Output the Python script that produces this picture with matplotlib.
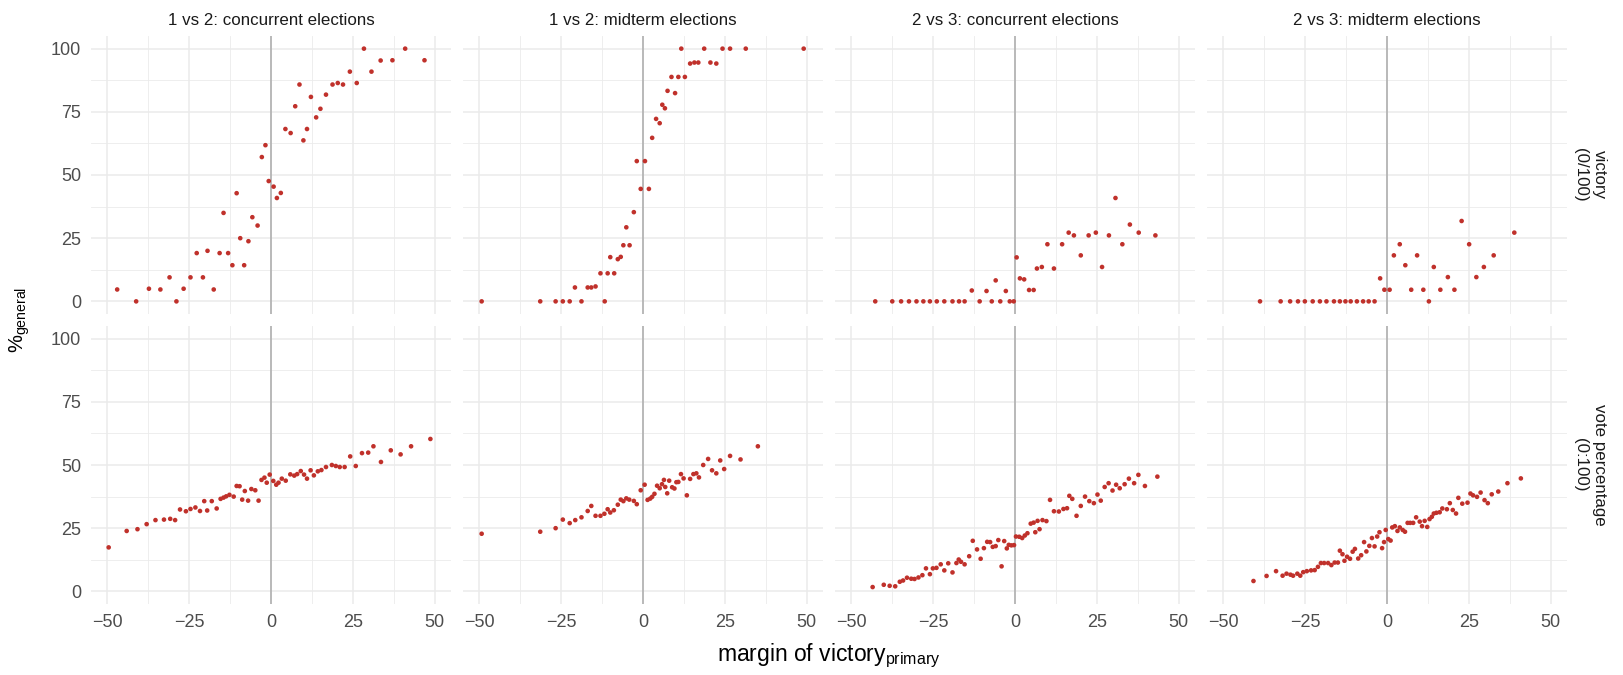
import matplotlib
matplotlib.use("Agg")
import matplotlib.pyplot as plt
from matplotlib.ticker import MultipleLocator

plt.rcParams['font.family'] = ['Liberation Sans', 'DejaVu Sans']
plt.rcParams['mathtext.default'] = 'regular'

# column / row facet labels
col_labels = ["1 vs 2: concurrent elections", "1 vs 2: midterm elections",
              "2 vs 3: concurrent elections", "2 vs 3: midterm elections"]
row_labels = ["victory\n(0/100)", "vote percentage\n(0:100)"]
x_ticks = [-50, -25, 0, 25, 50]
y_ticks = [0, 25, 50, 75, 100]

# victory (0/100), by column
c12_win_x = [-47.0, -41.2, -37.3, -33.8, -31.0, -28.9, -26.7, -24.6, -22.7, -20.8,
             -19.4, -17.5, -15.7, -14.5, -13.1, -11.8, -10.5, -9.4, -8.2, -6.9,
             -5.7, -4.1, -2.8, -1.7, -0.7, 0.8, 1.8, 3.0, 4.4, 6.0,
             7.4, 8.7, 9.9, 11.0, 12.2, 13.8, 15.1, 16.8, 18.8, 20.4,
             22.0, 24.1, 26.2, 28.4, 30.7, 33.5, 37.1, 41.0, 46.9]
c12_win_y = [4.7, 0, 5, 4.7, 9.5, 0, 5, 9.5, 19.1, 9.5,
             20, 4.7, 19.1, 35, 19.1, 14.3, 42.8, 25, 14.3, 23.8,
             33.3, 30, 57.1, 61.8, 47.6, 45.4, 40.9, 42.9, 68.2, 66.6,
             77.2, 85.8, 63.7, 68.2, 80.9, 72.8, 76.2, 81.8, 85.8, 86.4,
             85.8, 90.9, 86.4, 100, 90.9, 95.3, 95.4, 100, 95.4]

m12_win_x = [-49.3, -31.4, -26.7, -24.5, -22.4, -20.8, -18.8, -16.9, -15.8, -14.5,
             -13.0, -11.7, -10.8, -10.0, -8.8, -7.7, -6.8, -6.0, -4.1, -5.1,
             -2.8, -1.9, -0.7, 0.6, 1.8, 2.8, 4.0, 5.1, 5.9, 6.7,
             7.5, 8.7, 9.8, 10.8, 11.7, 12.8, 14.4, 15.7, 16.9, 18.7,
             20.6, 22.4, 24.3, 26.6, 31.4, 49.1]
m12_win_y = [0, 0, 0, 0, 0, 5.5, 0, 5.5, 5.5, 5.9,
             11.1, 0, 11.1, 17.5, 11.1, 16.7, 17.6, 22.2, 22.2, 29.3,
             35.3, 55.5, 44.5, 55.5, 44.5, 64.7, 72.2, 70.5, 77.8, 76.4,
             83.3, 88.8, 82.4, 88.8, 100, 88.8, 94.1, 94.5, 94.5, 100,
             94.5, 94.1, 100, 100, 100, 100]

c23_win_x = [-42.7, -37.5, -34.8, -32.4, -30.1, -28.0, -26.0, -23.9, -21.6, -19.1,
             -17.1, -15.4, -13.2, -10.8, -8.7, -7.1, -5.9, -4.5, -2.8, -1.6,
             -0.4, 0.5, 1.5, 2.8, 4.3, 5.7, 6.7, 8.2, 9.9, 11.9,
             14.4, 16.4, 18.0, 20.1, 22.5, 24.7, 26.6, 28.7, 30.7, 32.8,
             35.1, 37.8, 42.9]
c23_win_y = [0, 0, 0, 0, 0, 0, 0, 0, 0, 0,
             0, 0, 4.3, 0, 4.1, 0, 8.3, 0, 4.1, 0,
             0, 17.4, 9.1, 8.7, 4.5, 4.5, 13.0, 13.6, 22.6, 13.0,
             22.6, 27.2, 26.1, 18.2, 26.1, 27.2, 13.6, 26.1, 40.9, 22.6,
             30.4, 27.2, 26.1]

m23_win_x = [-38.8, -32.5, -29.6, -27.2, -25.1, -22.7, -20.5, -18.5, -16.2, -14.4,
             -12.7, -11.1, -9.2, -7.3, -5.6, -3.8, -2.1, -0.8, 0.8, 2.1,
             3.9, 5.6, 7.4, 9.2, 11.1, 12.8, 14.3, 16.3, 18.6, 20.6,
             22.8, 25.1, 27.3, 29.6, 32.6, 38.9]
m23_win_y = [0, 0, 0, 0, 0, 0, 0, 0, 0, 0,
             0, 0, 0, 0, 0, 0, 9.1, 4.6, 4.6, 18.2,
             22.6, 14.3, 4.6, 18.2, 4.6, 0, 13.6, 4.6, 9.6, 4.6,
             31.8, 22.6, 9.6, 13.6, 18.2, 27.2]

# vote percentage (0:100), by column
c12_vote_x = [-49.6, -44.1, -40.8, -38.0, -35.3, -32.7, -30.8, -29.3, -27.8, -26.0,
              -24.6, -23.1, -21.7, -20.4, -19.5, -18.1, -16.6, -15.4, -14.5, -13.7,
              -12.7, -11.4, -10.5, -9.6, -8.8, -8.0, -7.0, -6.0, -4.8, -3.8,
              -2.9, -2.0, -1.3, -0.4, 0.7, 1.6, 2.3, 3.3, 4.5, 5.9,
              7.1, 8.0, 9.1, 10.1, 11.0, 12.1, 13.1, 14.3, 15.4, 16.8,
              18.6, 19.8, 21.0, 22.5, 24.2, 25.9, 27.8, 29.7, 31.3, 33.6,
              36.6, 39.6, 42.8, 48.7]
c12_vote_y = [17.4, 23.9, 24.6, 26.6, 28.2, 28.4, 28.7, 28.2, 32.4, 31.7,
              32.6, 33.2, 31.8, 35.7, 32.0, 35.7, 32.8, 36.6, 37.1, 37.6,
              38.2, 37.5, 41.7, 41.6, 36.3, 39.7, 35.9, 40.5, 40.0, 35.9,
              44.1, 45.0, 43.0, 46.2, 43.7, 42.2, 43.0, 44.6, 43.8, 46.3,
              45.8, 46.4, 47.6, 46.2, 44.6, 47.9, 45.9, 47.5, 48.0, 49.2,
              50.0, 49.6, 49.2, 49.2, 53.4, 49.6, 54.7, 54.9, 57.4, 51.2,
              55.8, 54.2, 57.4, 60.3]

m12_vote_x = [-49.3, -31.4, -26.7, -24.5, -22.4, -20.7, -18.8, -16.9, -15.8, -14.5,
              -13.0, -11.8, -10.8, -10.0, -8.9, -7.7, -6.8, -6.0, -5.1, -4.2,
              -2.8, -1.9, -0.7, 0.5, 1.4, 2.2, 2.8, 3.5, 4.3, 5.1,
              5.8, 6.4, 6.8, 7.4, 8.0, 8.9, 9.6, 10.2, 10.8, 11.6,
              12.4, 13.4, 14.4, 15.4, 16.3, 17.1, 18.4, 19.9, 21.1, 22.4,
              23.6, 24.8, 26.6, 29.8, 35.1]
m12_vote_y = [22.8, 23.6, 25.0, 28.4, 27.0, 28.2, 29.3, 31.8, 33.8, 29.9,
              29.9, 30.7, 32.5, 31.2, 32.1, 34.3, 36.3, 35.7, 36.8, 36.3,
              35.8, 34.5, 40.0, 42.2, 36.2, 36.7, 37.4, 38.6, 41.8, 40.8,
              42.4, 44.1, 41.3, 38.8, 43.8, 41.2, 40.7, 43.2, 43.3, 46.4,
              44.7, 38.0, 44.5, 46.4, 46.7, 45.1, 50.0, 52.4, 47.9, 46.7,
              51.8, 48.4, 53.6, 52.2, 57.4]

c23_vote_x = [-43.5, -40.1, -38.3, -36.6, -35.2, -34.2, -33.0, -31.7, -30.7, -29.5,
              -28.3, -27.2, -26.0, -25.1, -24.0, -22.7, -21.6, -20.4, -19.1, -17.9,
              -17.2, -16.5, -15.4, -14.0, -12.9, -11.6, -10.5, -9.5, -8.5, -7.6,
              -6.8, -5.9, -5.1, -4.1, -3.3, -2.5, -1.9, -1.1, -0.3, 0.3,
              1.3, 2.2, 3.0, 3.8, 4.8, 5.7, 6.2, 6.9, 7.5, 8.4,
              9.6, 10.7, 11.9, 13.4, 14.8, 15.9, 16.6, 17.5, 18.8, 20.1,
              21.4, 22.7, 24.1, 25.2, 26.2, 27.4, 28.6, 29.8, 30.9, 32.0,
              33.5, 34.8, 36.4, 37.7, 39.7, 43.5]
c23_vote_y = [1.7, 2.6, 2.2, 2.0, 3.8, 4.3, 5.4, 5.0, 4.9, 5.5,
              6.4, 9.1, 6.8, 9.1, 9.3, 10.7, 8.3, 11.1, 7.5, 11.2,
              12.6, 11.7, 10.7, 13.9, 20.0, 16.6, 12.9, 17.1, 19.6, 19.5,
              17.6, 17.9, 20.3, 9.9, 19.9, 17.0, 18.4, 18.2, 18.3, 21.7,
              21.6, 21.1, 22.1, 23.0, 26.8, 27.2, 23.4, 27.9, 24.6, 28.2,
              27.8, 36.2, 31.7, 31.6, 32.6, 32.9, 37.8, 36.6, 29.9, 33.8,
              37.5, 35.7, 34.9, 38.3, 35.9, 41.3, 42.8, 39.9, 42.2, 40.8,
              42.4, 44.6, 42.8, 46.1, 41.7, 45.4]

m23_vote_x = [-40.8, -36.8, -33.9, -31.9, -30.7, -29.5, -28.7, -27.4, -26.5, -25.6,
              -24.5, -23.2, -22.1, -21.1, -20.2, -19.2, -18.0, -17.0, -16.0, -15.0,
              -14.4, -13.6, -13.0, -12.2, -11.3, -10.5, -9.8, -8.8, -7.9, -7.0,
              -6.3, -5.4, -4.6, -3.8, -3.0, -2.3, -1.5, -0.9, -0.4, 0.4,
              1.1, 1.6, 2.4, 3.2, 3.9, 4.8, 5.5, 6.3, 7.1, 8.0,
              8.9, 10.0, 10.7, 11.5, 12.3, 13.0, 13.7, 14.3, 15.1, 16.1,
              16.9, 18.3, 19.2, 20.1, 21.1, 21.8, 23.0, 24.6, 25.5, 26.3,
              27.5, 28.6, 29.8, 30.8, 32.0, 34.0, 36.8, 40.9]
m23_vote_y = [4.1, 6.1, 8.0, 6.2, 7.0, 6.6, 6.2, 7.0, 6.2, 7.6,
              8.0, 8.3, 8.4, 9.7, 11.2, 11.2, 11.2, 10.4, 11.4, 11.4,
              16.1, 14.7, 12.1, 13.7, 12.9, 15.7, 16.8, 13.0, 14.3, 19.5,
              15.8, 18.0, 21.1, 17.8, 21.7, 23.4, 17.1, 19.5, 24.3, 20.7,
              20.1, 25.3, 25.8, 23.9, 25.3, 24.3, 23.6, 27.1, 27.1, 27.1,
              29.3, 27.6, 25.8, 27.9, 25.5, 28.6, 29.5, 30.8, 31.1, 31.3,
              32.8, 32.5, 34.9, 32.2, 30.8, 37.0, 34.7, 35.1, 38.7, 38.0,
              37.4, 39.1, 36.1, 34.9, 38.4, 39.5, 42.8, 44.7]

panels = [
    [(c12_win_x, c12_win_y), (m12_win_x, m12_win_y),
     (c23_win_x, c23_win_y), (m23_win_x, m23_win_y)],
    [(c12_vote_x, c12_vote_y), (m12_vote_x, m12_vote_y),
     (c23_vote_x, c23_vote_y), (m23_vote_x, m23_vote_y)],
]

W, H = 1623, 675
fig = plt.figure(figsize=(W / 100, H / 100), dpi=100)
fig.patch.set_facecolor('white')

lefts = [91, 463, 835, 1207]
tops = [36, 326]
pw, ph = 360, 278
grid_col = '#EBEBEB'
tick_col = '#4D4D4D'
pt_col = '#C0312B'

for r in range(2):
    for c in range(4):
        ax = fig.add_axes([lefts[c] / W, 1 - (tops[r] + ph) / H, pw / W, ph / H])
        ax.set_xlim(-55, 55)
        ax.set_ylim(-5, 105)
        ax.xaxis.set_major_locator(MultipleLocator(25))
        ax.xaxis.set_minor_locator(MultipleLocator(12.5))
        ax.yaxis.set_major_locator(MultipleLocator(25))
        ax.yaxis.set_minor_locator(MultipleLocator(12.5))
        ax.grid(which='major', color=grid_col, lw=1.1)
        ax.grid(which='minor', color=grid_col, lw=0.6)
        ax.set_axisbelow(True)
        for s in ax.spines.values():
            s.set_visible(False)
        ax.tick_params(which='both', length=0, labelsize=13,
                       labelcolor=tick_col, pad=7)
        ax.set_xticks(x_ticks)
        ax.set_yticks(y_ticks)
        if r == 1:
            ax.set_xticklabels(['\u221250', '\u221225', '0', '25', '50'])
        else:
            ax.set_xticklabels([])
        if c != 0:
            ax.set_yticklabels([])
        ax.axvline(0, color='#ABABAB', lw=1.1, zorder=1)
        xs, ys = panels[r][c]
        ax.scatter(xs, ys, s=11, color=pt_col, edgecolors='none', zorder=3)
        if r == 0:
            ax.set_title(col_labels[c], fontsize=12.2, color='#1A1A1A', pad=8)
        if c == 3:
            ax.text(1.064, 0.5, row_labels[r], transform=ax.transAxes,
                    rotation=-90, ha='center', va='center', fontsize=12.2,
                    color='#1A1A1A', linespacing=1.35)

fig.text(829 / W, 1 - 656 / H, 'margin of victory$_{primary}$',
         ha='center', va='center', fontsize=16.5, color='black')
fig.text(20 / W, 1 - 320 / H, '%$_{general}$', rotation=90,
         ha='center', va='center', fontsize=14.5, color='black')

fig.savefig('out.png', dpi=100, facecolor='white')
